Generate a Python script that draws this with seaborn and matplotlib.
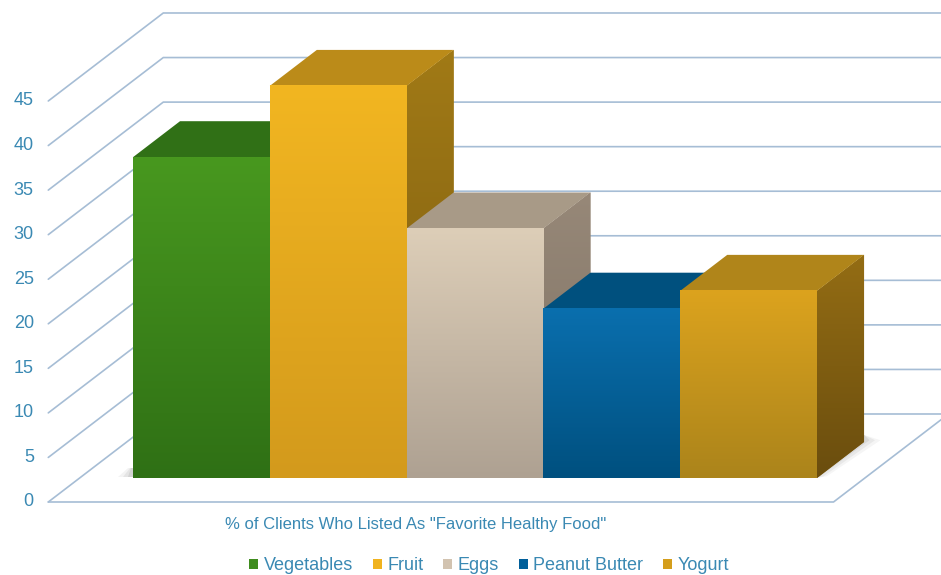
import numpy as np
import matplotlib
matplotlib.use("Agg")
import matplotlib.pyplot as plt
import matplotlib.colors as mcolors
from matplotlib.patches import Polygon
from matplotlib.lines import Line2D
import seaborn as sns
import pandas as pd

# ---------------- data ----------------
categories = ["Vegetables", "Fruit", "Eggs", "Peanut Butter", "Yogurt"]
values = [36, 44, 28, 19, 21]
tick_values = [0, 5, 10, 15, 20, 25, 30, 35, 40, 45]
axis_title = '% of Clients Who Listed As "Favorite Healthy Food"'

# ---------------- colours ----------------
legend_colors = ["#3f8c1e", "#f0b31f", "#d2c3b0", "#005f9a", "#d49e1c"]
front_top = ["#48981f", "#f2b621", "#ddceb8", "#0a6fae", "#dca31e"]
front_bottom = ["#2f7015", "#d39a1c", "#aea192", "#00507f", "#ab841b"]
top_colors = ["#307016", "#bb8b19", "#a89a87", "#00507e", "#b0851a"]
side_top = ["#2a6312", "#a17a16", "#978878", "#004670", "#946d14"]
side_bottom = ["#1f4c0d", "#7a5a10", "#7d7163", "#003656", "#6a4d0e"]
grid_color = "#a6bdd5"
text_color = "#3a89b3"

sns.set_theme(style="white")
plt.rcParams['font.family'] = ['Liberation Sans', 'DejaVu Sans']

W, H = 941, 575
fig = plt.figure(figsize=(W / 100, H / 100), dpi=100)
ax = fig.add_axes([0, 0, 1, 1])

df = pd.DataFrame({"food": categories, "pct": values})
sns.barplot(data=df, x="food", y="pct", hue="food", hue_order=categories,
            order=categories, palette=legend_colors, width=1.0, ax=ax,
            legend=False, saturation=1, linewidth=0)

# projection parameters (data units)
XLIM = (-1.4722, 5.4064)
YLIM = (-10.885, 53.64)
DX, DY = 0.8406, 9.875          # full depth vector front plane -> back wall
t_front, t_back, t_bar = -0.2727, 0.7273, 0.409
xlo, xhi = -0.89, 4.85


def vgrad(c_top, c_bot, n=256):
    a = np.array(mcolors.to_rgb(c_top))
    b = np.array(mcolors.to_rgb(c_bot))
    f = np.linspace(0, 1, n)[:, None]
    return (a * (1 - f) + b * f)[:, None, :]


# ---------------- grid / walls ----------------
for v in tick_values:
    x0, y0 = xlo + t_front * DX, v + t_front * DY
    x1, y1 = xlo + t_back * DX, v + t_back * DY
    ax.add_line(Line2D([x0, x1, 7], [y0, y1, y1], color=grid_color,
                       lw=1.2, zorder=1, solid_joinstyle="miter"))
    ax.text(-1.225, y0, str(v), ha="right", va="center", fontsize=13,
            color=text_color)
# floor front and right edge
fx0, fy0 = xlo + t_front * DX, t_front * DY
fx1 = xhi + t_front * DX
bx1, by1 = xhi + t_back * DX, t_back * DY
ax.add_line(Line2D([fx0, fx1, bx1], [fy0, fy0, by1], color=grid_color,
                   lw=1.2, zorder=1))

# ---------------- pseudo 3-D bars ----------------
bars = list(ax.patches)
ddx, ddy = t_bar * DX, t_bar * DY
n = len(bars)
for i, p in enumerate(bars):
    x, w, h = p.get_x(), p.get_width(), p.get_height()
    z = 10 + 3 * i
    # soft shadows on the floor at the outer ends of the bar group
    if i == 0:
        for k, a in enumerate([0.06, 0.08, 0.10]):
            s = 0.11 - 0.035 * k
            sh = Polygon([(x - s, 0.1), (x + 0.2, 0.1), (x + 0.2, 1.1),
                          (x - s * 0.3, 1.1)], closed=True,
                         facecolor="#404040", edgecolor="none", alpha=a,
                         zorder=z - 0.5)
            ax.add_patch(sh)
    if i == n - 1:
        for k, a in enumerate([0.05, 0.07, 0.09]):
            s = 0.12 - 0.04 * k
            sh = Polygon([(x + w, 0.0), (x + w + s * 0.6, 0.2),
                          (x + w + ddx + s, ddy + 0.2),
                          (x + w + ddx, ddy + 0.8), (x + w, 0.8)],
                         closed=True, facecolor="#404040", edgecolor="none",
                         alpha=a, zorder=z - 0.5)
            ax.add_patch(sh)
    # side face with gradient
    side = Polygon([(x + w, 0), (x + w + ddx, ddy), (x + w + ddx, h + ddy),
                    (x + w, h)], closed=True, facecolor=side_top[i],
                   edgecolor="none", zorder=z)
    ax.add_patch(side)
    im = ax.imshow(vgrad(side_top[i], side_bottom[i]),
                   extent=[x + w, x + w + ddx, 0, h + ddy],
                   aspect="auto", zorder=z + 0.1, interpolation="bilinear")
    im.set_clip_path(side)
    # top face
    top = Polygon([(x, h), (x + w, h), (x + w + ddx, h + ddy),
                   (x + ddx, h + ddy)], closed=True, facecolor=top_colors[i],
                  edgecolor="none", zorder=z + 0.5)
    ax.add_patch(top)
    # front face with gradient
    p.set_zorder(z + 1)
    ax.imshow(vgrad(front_top[i], front_bottom[i]),
              extent=[x, x + w, 0, h], aspect="auto",
              zorder=z + 1.2, interpolation="bilinear")

ax.set_xlim(*XLIM)
ax.set_ylim(*YLIM)
ax.axis("off")

# ---------------- title & legend ----------------
fig.text(416 / W, 1 - 525 / H, axis_title, ha="center", va="center",
         fontsize=12, color=text_color)
handles = [plt.Rectangle((0, 0), 1, 1, facecolor=c, edgecolor="none")
           for c in legend_colors]
fig.legend(handles, categories, loc="center",
           bbox_to_anchor=(489 / W, 1 - 566 / H), ncol=5, frameon=False,
           handlelength=0.5, handleheight=0.5, handletextpad=0.3,
           columnspacing=1.1, fontsize=13, labelcolor=text_color,
           borderaxespad=0, borderpad=0)

fig.savefig("out.png", dpi=100, facecolor="white")
